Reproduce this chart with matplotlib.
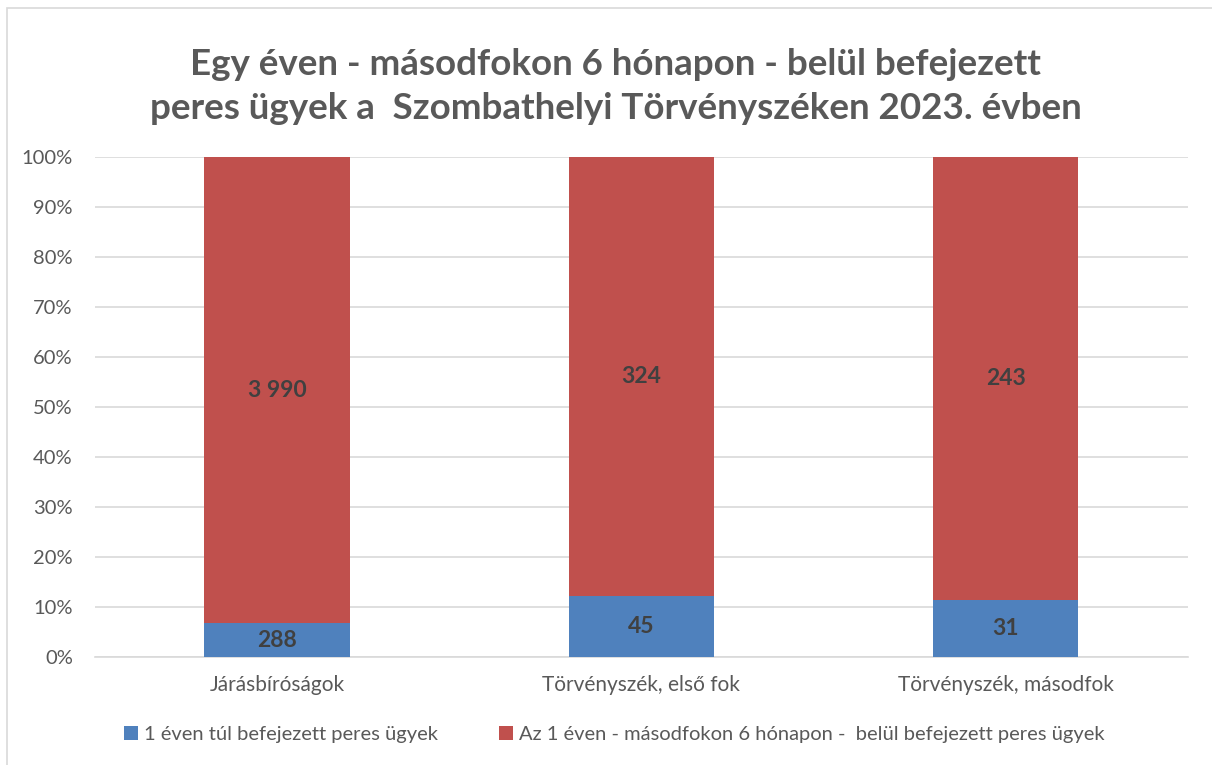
import numpy as np
import matplotlib.pyplot as plt
import matplotlib.ticker as mtick
from matplotlib.patches import Rectangle

plt.rcParams['font.family'] = ['Lato', 'DejaVu Sans']

categories = ['Járásbíróságok', 'Törvényszék, első fok', 'Törvényszék, másodfok']
over_year = np.array([288, 45, 31])
within_year = np.array([3990, 324, 243])
labels = ['1 éven túl befejezett peres ügyek',
          'Az 1 éven - másodfokon 6 hónapon -  belül befejezett peres ügyek']

total = over_year + within_year
p_over = over_year / total * 100
p_within = within_year / total * 100

fig = plt.figure(figsize=(12.12, 7.65), dpi=100)
ax = fig.add_axes([0.0784, 0.1412, 0.9016, 0.6536])
fig.patches.append(Rectangle((0.006, -0.01), 1.0, 1.0, transform=fig.transFigure,
                             fill=False, edgecolor='#d9d9d9', lw=1.2))

x = np.arange(len(categories))
w = 0.40
b1 = ax.bar(x, p_over, w, color='#4f81bd', label=labels[0], zorder=3)
b2 = ax.bar(x, p_within, w, bottom=p_over, color='#c0504d', label=labels[1], zorder=3)

def fmt(v):
    return f'{v:,}'.replace(',', ' ')

for i in range(len(categories)):
    ax.text(x[i], p_over[i] / 2, fmt(over_year[i]), ha='center', va='center',
            fontsize=16.5, fontweight='bold', color='#404040', zorder=4)
    ax.text(x[i], p_over[i] + p_within[i] / 2, fmt(within_year[i]), ha='center',
            va='center', fontsize=16.5, fontweight='bold', color='#404040', zorder=4)

ax.set_xlim(-0.5, 2.5)
ax.set_ylim(0, 100)
ax.set_yticks(np.arange(0, 101, 10))
ax.yaxis.set_major_formatter(mtick.FormatStrFormatter('%d%%'))
ax.set_xticks(x)
ax.set_xticklabels(categories)
ax.tick_params(axis='both', length=0, labelsize=14.5, labelcolor='#595959')
ax.tick_params(axis='x', pad=13, labelsize=15)
ax.tick_params(axis='y', pad=16)
ax.grid(True, axis='y', color='#d9d9d9', lw=1.2, zorder=0)
for s in ['top', 'right', 'left']:
    ax.spines[s].set_visible(False)
ax.spines['bottom'].set_color('#d9d9d9')
ax.spines['bottom'].set_linewidth(1.2)

fig.text(0.508, 0.887, 'Egy éven - másodfokon 6 hónapon - belül befejezett\n'
         'peres ügyek a  Szombathelyi Törvényszéken 2023. évben',
         ha='center', va='center', fontsize=26.5, fontweight='bold', color='#595959',
         linespacing=1.4)

fig.legend(handles=[b1, b2], loc='center', bbox_to_anchor=(0.507, 0.04), ncol=2,
           frameon=False, fontsize=14.5, labelcolor='#595959', handlelength=0.7,
           handleheight=0.7, handletextpad=0.3, columnspacing=3)

fig.savefig('out.png', dpi=100)
